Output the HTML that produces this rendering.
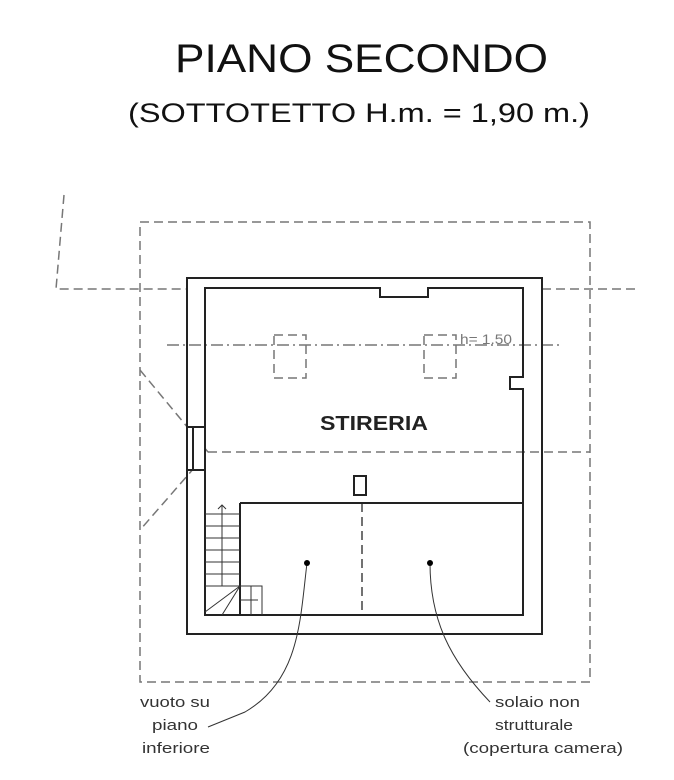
<!DOCTYPE html>
<html><head><style>body{margin:0;background:#fff}svg{display:block}</style></head><body>
<svg width="674" height="780" xmlns="http://www.w3.org/2000/svg" font-family="Liberation Sans, sans-serif">
<rect width="674" height="780" fill="#fff"/>
<text x="175" y="72" font-size="40" textLength="373" lengthAdjust="spacingAndGlyphs" fill="#111">PIANO SECONDO</text>
<text x="128" y="122" font-size="27" textLength="462" lengthAdjust="spacingAndGlyphs" fill="#111">(SOTTOTETTO H.m. = 1,90 m.)</text>
<g stroke="#777" stroke-width="1.5" fill="none" stroke-dasharray="9,5">
<rect x="140" y="222" width="450" height="460"/>
<path d="M64 195 L56 289 L187 289"/>
<path d="M542 289 L638 289"/>
<path d="M140 370 L208 452 L140 530"/>
<path d="M208 452 L590 452"/>
<path d="M167 345 L560 345" stroke-dasharray="12,4,2,4"/>
<rect x="274" y="335" width="32" height="43"/>
<rect x="424" y="335" width="32" height="43"/>
<path d="M362 503 L362 615" stroke="#444"/>
</g>
<text x="460" y="344" font-size="14" textLength="52" lengthAdjust="spacingAndGlyphs" fill="#777">h= 1.50</text>
<g stroke="#222" stroke-width="2" fill="none">
<rect x="187" y="278" width="355" height="356"/>
<path d="M205 288 L380 288 L380 297 L428 297 L428 288 L523 288 L523 377 L510 377 L510 389 L523 389 L523 615 L205 615 Z"/>
<rect x="187" y="427" width="18" height="43" fill="#fff"/>
<path d="M193 428 L193 469"/>
<rect x="354" y="476" width="12" height="19"/>
<path d="M240 503 L523 503 M240 503 L240 615"/>
</g>
<g stroke="#333" stroke-width="1" fill="none">
<path d="M205 514 H240 M205 526 H240 M205 538 H240 M205 550 H240 M205 562 H240 M205 574 H240 M205 586 H240"/>
<path d="M222 505 V586 M218 509 L222 505 L226 509"/>
<path d="M240 586 H262 V615 M251 586 V615 M240 600 H258 M205 612 L240 586 M222 615 L240 586"/>
<path d="M307 563 C300 620,300 680,245 712 L208 727"/>
<path d="M430 563 C430 620,450 660,490 702"/>
</g>
<circle cx="307" cy="563" r="3" fill="#000"/>
<circle cx="430" cy="563" r="3" fill="#000"/>
<g font-size="15" fill="#333" lengthAdjust="spacingAndGlyphs">
<text x="140" y="707" textLength="70" lengthAdjust="spacingAndGlyphs">vuoto su</text>
<text x="152" y="730" textLength="46" lengthAdjust="spacingAndGlyphs">piano</text>
<text x="142" y="753" textLength="68" lengthAdjust="spacingAndGlyphs">inferiore</text>
<text x="495" y="707" textLength="85" lengthAdjust="spacingAndGlyphs">solaio non</text>
<text x="495" y="730" textLength="78" lengthAdjust="spacingAndGlyphs">strutturale</text>
<text x="463" y="753" textLength="160" lengthAdjust="spacingAndGlyphs">(copertura camera)</text>
</g>
<text x="320" y="430" font-size="20" font-weight="bold" textLength="108" lengthAdjust="spacingAndGlyphs" fill="#222">STIRERIA</text>
</svg>
</body></html>
